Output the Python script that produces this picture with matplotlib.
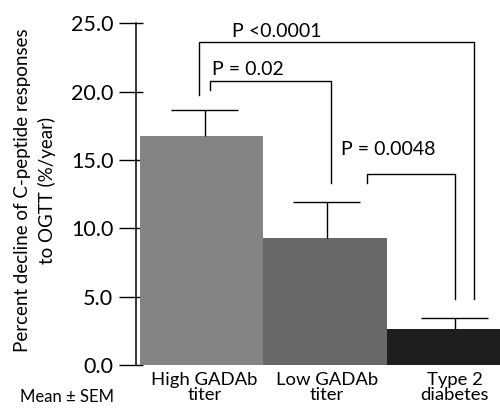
import matplotlib
matplotlib.use("Agg")
import matplotlib.pyplot as plt
import numpy as np

plt.rcParams['font.family'] = ['Lato', 'DejaVu Sans']

# ---- data ----
categories = ["High GADAb\ntiter", "Low GADAb\ntiter", "Type 2\ndiabetes"]
means = [16.75, 9.27, 2.61]
sem = [1.9, 2.63, 0.8]
bar_colors = ["#848484", "#686868", "#1e1e1e"]
yticks = [0, 5, 10, 15, 20, 25]
ytick_labels = ["0.0", "5.0", "10.0", "15.0", "20.0", "25.0"]

# significance brackets
bracket_labels = ["P <0.0001", "P = 0.02", "P = 0.0048"]
bracket_x1 = [-0.02, 0.07, 1.34]
bracket_x2 = [2.21, 1.05, 2.05]
bracket_top = [23.6, 20.75, 13.95]
bracket_left_foot = [19.75, 20.1, 13.35]
bracket_right_foot = [4.85, 13.35, 4.85]
label_x = [0.245, 0.083, 1.127]
label_y = [24.0, 21.2, 15.4]

# layout (bar geometry)
bar_left = [-0.5, 0.5, 1.5]
bar_width = [1.0, 1.0, 1.2]
center_pos = [0.025, 1.015, 2.05]

fig = plt.figure(figsize=(5.0, 4.09), dpi=100)
ax = fig.add_axes([0.272, 0.1076, 0.728, 0.8354])

means_a = np.array(means)
sem_a = np.array(sem)
cx = np.array(center_pos)
ax.bar(bar_left, means_a, width=bar_width, align='edge', color=bar_colors,
       edgecolor='none', zorder=2)
# upper-only error bars
cap_half = 0.27
ax.vlines(cx, means_a, means_a + sem_a, color='black', lw=1.0, zorder=3)
ax.hlines(means_a + sem_a, cx - cap_half, cx + cap_half, color='black', lw=1.0, zorder=3)

for i in range(len(bracket_labels)):
    ax.plot([bracket_x1[i], bracket_x1[i], bracket_x2[i], bracket_x2[i]],
            [bracket_left_foot[i], bracket_top[i], bracket_top[i], bracket_right_foot[i]],
            color='black', lw=1.0, zorder=4, clip_on=False)
    ax.text(label_x[i], label_y[i], bracket_labels[i], ha='left', va='baseline', fontsize=14)

ax.set_xlim(-0.53, 2.417)
ax.set_ylim(0, 25)
for s in ['top', 'right', 'bottom']:
    ax.spines[s].set_visible(False)
ax.spines['left'].set_linewidth(1.1)
ax.set_yticks(yticks)
ax.set_yticklabels(ytick_labels, fontsize=15.5)
ax.yaxis.remove_overlapping_locs = False
ax.set_yticks(yticks, minor=True)
ax.tick_params(axis='y', which='major', direction='out', length=12.3, width=1.0, pad=4)
ax.tick_params(axis='y', which='minor', direction='in', length=5, width=1.0)
ax.set_xticks(cx)
ax.set_xticklabels(categories, fontsize=13.3, linespacing=0.95)
ax.tick_params(axis='x', length=0, pad=5)

fig.text(0.07, 0.535, "Percent decline of C-peptide responses\nto OGTT (%/year)",
         rotation=90, ha='center', va='center', fontsize=13.5, linespacing=1.5)
fig.text(0.04, (409 - 401.5) / 409, "Mean ± SEM", ha='left', va='baseline', fontsize=12)

fig.savefig("out.png", dpi=100)
